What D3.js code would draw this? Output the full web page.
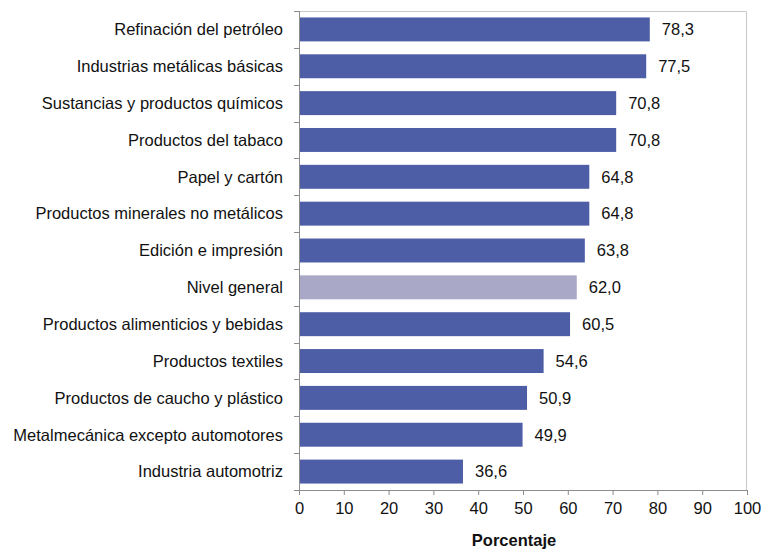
<!DOCTYPE html>
<html>
<head>
<meta charset="utf-8">
<script src="https://cdn.jsdelivr.net/npm/d3@7"></script>
<style>
  body { margin: 0; background: #fff; }
  text { font-family: "Liberation Sans", Arial, sans-serif; }
</style>
</head>
<body>
<svg id="chart" width="761" height="550"></svg>
<script>
const categories = [
  "Refinación del petróleo",
  "Industrias metálicas básicas",
  "Sustancias y productos químicos",
  "Productos del tabaco",
  "Papel y cartón",
  "Productos minerales no metálicos",
  "Edición e impresión",
  "Nivel general",
  "Productos alimenticios y bebidas",
  "Productos textiles",
  "Productos de caucho y plástico",
  "Metalmecánica excepto automotores",
  "Industria automotriz"
]
const values = [78.3, 77.5, 70.8, 70.8, 64.8, 64.8, 63.8, 62.0, 60.5, 54.6, 50.9, 49.9, 36.6]
const highlight = "Nivel general"
const xTicks = [0, 10, 20, 30, 40, 50, 60, 70, 80, 90, 100]

const FS = 16.5
const margin = {top: 11, right: 14, bottom: 60, left: 299}
const width = 761 - margin.left - margin.right
const height = 550 - margin.top - margin.bottom

const svg = d3.select('#chart')
const g = svg.append('g').attr('transform', `translate(${margin.left}, ${margin.top})`)

const x = d3.scaleLinear().domain([0, 100]).range([0, width])
const y = d3.scaleBand().domain(categories).range([0, height]).paddingInner(0.35).paddingOuter(0.175)

// frame (top and right)
g.append('path')
  .attr('d', `M0,0.5H${width - 0.5}V${height}`)
  .attr('fill', 'none').attr('stroke', '#c8c8c8').attr('stroke-width', 1)

const data = categories.map((c, i) => ({cat: c, val: values[i]}))

g.selectAll('rect.bar').data(data).enter().append('rect')
  .attr('class', 'bar')
  .attr('x', 0)
  .attr('y', d => y(d.cat))
  .attr('width', d => x(d.val))
  .attr('height', y.bandwidth())
  .attr('fill', d => d.cat === highlight ? '#a9a9c7' : '#4e5ea6')

g.selectAll('text.val').data(data).enter().append('text')
  .attr('class', 'val')
  .attr('x', d => x(d.val) + 12)
  .attr('y', d => y(d.cat) + y.bandwidth() / 2)
  .attr('dy', '0.35em')
  .attr('font-size', FS)
  .attr('fill', '#111')
  .text(d => d.val.toFixed(1).replace('.', ','))

// y axis: custom ticks at band boundaries
const yAxis = g.append('g')
yAxis.append('line').attr('x1', 0.5).attr('x2', 0.5).attr('y1', 0).attr('y2', height)
  .attr('stroke', '#8c8c8c')
const step = height / categories.length
yAxis.selectAll('line.tk').data(d3.range(categories.length + 1)).enter().append('line')
  .attr('class', 'tk')
  .attr('x1', -5).attr('x2', 0.5)
  .attr('y1', i => Math.round(i * step) + 0.5).attr('y2', i => Math.round(i * step) + 0.5)
  .attr('stroke', '#8c8c8c')
yAxis.selectAll('text').data(categories).enter().append('text')
  .attr('x', -16)
  .attr('y', d => y(d) + y.bandwidth() / 2)
  .attr('dy', '0.35em')
  .attr('text-anchor', 'end')
  .attr('font-size', FS)
  .attr('fill', '#111')
  .text(d => d)

// x axis
const xAxis = g.append('g').attr('transform', `translate(0, ${height})`)
  .call(d3.axisBottom(x).tickValues(xTicks).tickSize(5).tickSizeOuter(0).tickPadding(7))
xAxis.select('.domain').attr('stroke', '#8c8c8c')
xAxis.selectAll('.tick line').attr('stroke', '#8c8c8c')
xAxis.selectAll('.tick text').attr('font-size', FS).attr('fill', '#111')
  .attr('font-family', '"Liberation Sans", Arial, sans-serif')

svg.append('text')
  .attr('x', 514)
  .attr('y', 546)
  .attr('text-anchor', 'middle')
  .attr('font-size', FS)
  .attr('font-weight', 'bold')
  .attr('fill', '#111')
  .text('Porcentaje')
</script>
</body>
</html>
